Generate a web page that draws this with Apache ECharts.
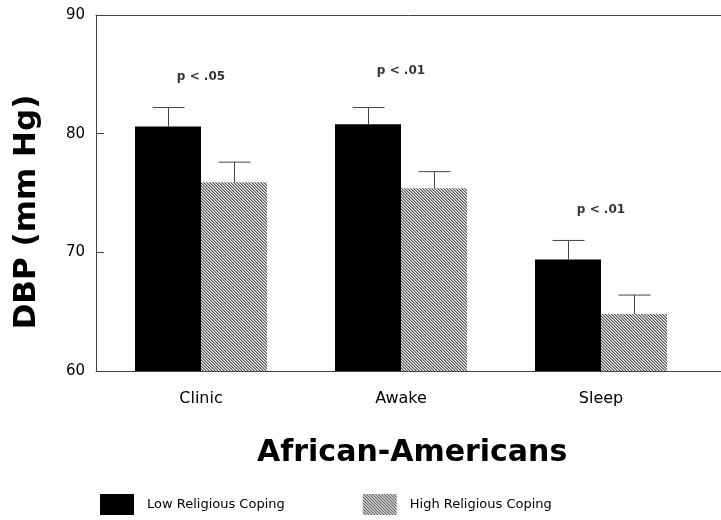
<!DOCTYPE html>
<html>

<head>
    <meta charset="utf-8">
    <title>DBP - African-Americans</title>
    <script src="https://cdn.jsdelivr.net/npm/echarts@6/dist/echarts.min.js"></script>
</head>

<body style="margin:0;background:#fff">
    <div id="main" style="width: 721px;height:520px;"></div>
    <script type="text/javascript">
        // data
        var categories = ['Clinic', 'Awake', 'Sleep'];
        var lowCoping = [80.6, 80.8, 69.4];
        var lowErr = [1.6, 1.4, 1.6];
        var highCoping = [75.9, 75.4, 64.8];
        var highErr = [1.7, 1.4, 1.6];
        var pTexts = ['p < .05', 'p < .01', 'p < .01'];
        var pLevels = [84.8, 85.3, 73.6];
        var yTicks = [60, 70, 80, 90];

        var dom = document.getElementById("main");
        var myChart = echarts.init(dom, null, { renderer: 'canvas' });

        // diagonal hatch for the high coping bars
        var hatch = document.createElement('canvas');
        hatch.width = 3;
        hatch.height = 3;
        var hctx = hatch.getContext('2d');
        var img = hctx.createImageData(3, 3);
        var shades = [85, 170, 235];
        for (var y = 0; y < 3; y++) {
            for (var x = 0; x < 3; x++) {
                var s = shades[((x - y) % 3 + 3) % 3];
                var k = (y * 3 + x) * 4;
                img.data[k] = s; img.data[k + 1] = s; img.data[k + 2] = s; img.data[k + 3] = 255;
            }
        }
        hctx.putImageData(img, 0, 0);
        var hatchFill = { image: hatch, repeat: 'repeat' };

        function errorItem(side) {
            return function (params, api) {
                var i = api.value(0);
                var band = api.size([1, 0])[0];
                var dx = side * band * 0.165;
                var base = api.coord([i, api.value(1)]);
                var top = api.coord([i, api.value(1) + api.value(2)]);
                var x = Math.round(base[0] + dx) + 0.5;
                var style = { stroke: '#444', lineWidth: 1 };
                return {
                    type: 'group',
                    children: [
                        { type: 'line', shape: { x1: x, y1: base[1], x2: x, y2: top[1] }, style: style },
                        { type: 'line', shape: { x1: x - 16, y1: top[1], x2: x + 16, y2: top[1] }, style: style }
                    ]
                };
            };
        }

        var font = 'DejaVu Sans';
        var axisLine = { show: true, lineStyle: { color: '#444', width: 1 } };

        var option = {
            animation: false,
            backgroundColor: '#fff',
            title: {
                text: 'African-Americans',
                left: 252,
                top: 433,
                textStyle: { fontFamily: font, fontWeight: 'bold', fontSize: 30, color: '#000' }
            },
            graphic: [{
                type: 'text',
                x: 27,
                y: 212,
                rotation: Math.PI / 2,
                style: {
                    text: 'DBP (mm Hg)',
                    fontFamily: font,
                    fontWeight: 'bold',
                    fontSize: 31,
                    fill: '#000',
                    textAlign: 'center',
                    textVerticalAlign: 'middle'
                }
            }],
            legend: {
                data: ['Low Religious Coping', 'High Religious Coping'],
                left: 100,
                top: 494,
                padding: 0,
                icon: 'rect',
                itemWidth: 34,
                itemHeight: 21,
                itemGap: 78,
                textStyle: { fontFamily: font, fontSize: 13, color: '#000', padding: [0, 0, 0, 8] }
            },
            grid: [
                { left: 96, right: 0, top: 15, bottom: 149 },
                { left: 101, right: 20, top: 15, bottom: 149 }
            ],
            xAxis: [
                {
                    gridIndex: 0, type: 'value', min: 0, max: 1, position: 'bottom',
                    axisLine: axisLine, axisTick: { show: false }, axisLabel: { show: false }, splitLine: { show: false }
                },
                {
                    gridIndex: 0, type: 'value', min: 0, max: 1, position: 'top',
                    axisLine: axisLine, axisTick: { show: false }, axisLabel: { show: false }, splitLine: { show: false }
                },
                {
                    gridIndex: 1, type: 'category', data: categories,
                    axisLine: { show: false }, axisTick: { show: false },
                    axisLabel: { margin: 20, fontFamily: font, fontSize: 16, color: '#000' }
                }
            ],
            yAxis: [
                {
                    gridIndex: 0, type: 'value', min: yTicks[0], max: yTicks[yTicks.length - 1], interval: 10,
                    axisLine: axisLine,
                    axisTick: { show: true, inside: true, length: 8, lineStyle: { color: '#444' } },
                    axisLabel: { margin: 11, fontFamily: font, fontSize: 15, color: '#000' },
                    splitLine: { show: false }
                },
                {
                    gridIndex: 1, type: 'value', min: yTicks[0], max: yTicks[yTicks.length - 1], show: false
                }
            ],
            series: [
                {
                    name: 'Low Religious Coping',
                    type: 'bar',
                    xAxisIndex: 2, yAxisIndex: 1,
                    data: lowCoping,
                    barWidth: '33%',
                    barGap: '0%',
                    itemStyle: { color: '#000' }
                },
                {
                    name: 'High Religious Coping',
                    type: 'bar',
                    xAxisIndex: 2, yAxisIndex: 1,
                    data: highCoping,
                    barWidth: '33%',
                    barGap: '0%',
                    itemStyle: { color: hatchFill }
                },
                {
                    type: 'custom',
                    xAxisIndex: 2, yAxisIndex: 1,
                    renderItem: errorItem(-1),
                    data: lowCoping.map(function (v, i) { return [i, v, lowErr[i]]; }),
                    z: 1
                },
                {
                    type: 'custom',
                    xAxisIndex: 2, yAxisIndex: 1,
                    renderItem: errorItem(1),
                    data: highCoping.map(function (v, i) { return [i, v, highErr[i]]; }),
                    z: 1
                },
                {
                    type: 'scatter',
                    xAxisIndex: 2, yAxisIndex: 1,
                    symbolSize: 0,
                    data: pTexts.map(function (t, i) { return { name: t, value: [i, pLevels[i]] }; }),
                    label: {
                        show: true, position: 'inside', formatter: '{b}',
                        fontFamily: font, fontWeight: 'bold', fontSize: 12, color: '#000'
                    }
                }
            ]
        };

        if (option && typeof option === "object") {
            myChart.setOption(option, true);
        }
    </script>
</body>

</html>
